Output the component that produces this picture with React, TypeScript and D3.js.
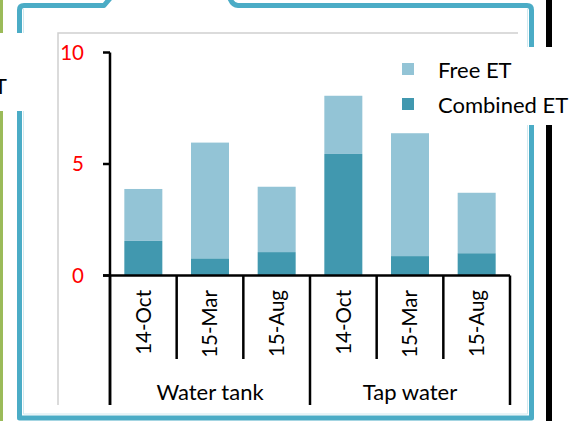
import React from 'react';
import * as d3 from 'd3';

const groups = ['Water tank', 'Tap water'];
const dates = ['14-Oct', '15-Mar', '15-Aug'];
const combinedET = [1.55, 0.77, 1.05, 5.45, 0.87, 1.0];
const freeET = [2.33, 5.19, 2.93, 2.61, 5.51, 2.71];
const yTicks = [0, 5, 10];
const seriesNames = ['Free ET', 'Combined ET'];

const colors: Record<string, string> = {
  'Free ET': '#93c4d6',
  'Combined ET': '#4198af',
};

const font = 'Lato, "Open Sans", sans-serif';

const App: React.FC = () => {
  const width = 571;
  const height = 421;

  // one row per bar, group-major
  const rows = groups.flatMap((g, gi) =>
    dates.map((d, di) => ({
      key: `${g}|${d}`,
      group: g,
      date: d,
      'Combined ET': combinedET[gi * dates.length + di],
      'Free ET': freeET[gi * dates.length + di],
    }))
  );

  const xScale = d3.scaleBand<string>()
    .domain(rows.map(r => r.key))
    .range([110, 510])
    .paddingInner(0.43)
    .paddingOuter(0.215);

  const yScale = d3.scaleLinear()
    .domain([0, 10])
    .range([275.5, 52.5]);

  const stack = d3.stack<any>().keys(['Combined ET', 'Free ET']);
  const layers = stack(rows);

  const step = xScale.step();
  const x0 = xScale.range()[0];
  const catEdge = (i: number) => x0 + step * i;
  const axisY = yScale(0);

  return (
    <svg width={width} height={height} style={{ position: 'absolute', left: 0, top: 0, background: '#fff' }}>
      {/* decorative frame pieces */}
      <rect x={0} y={0} width={3} height={421} fill="#9bbb59" />
      <rect x={546} y={0} width={6} height={421} fill="#000" />
      <path
        d="M112,-4 L104,5.5 L24,5.5 Q19.5,5.5 19.5,10 L19.5,418 L531.5,418 L531.5,10 Q531.5,5.5 527,5.5 L238,5.5 Q232,5.5 229,-4"
        fill="none"
        stroke="#4bacc6"
        strokeWidth={5}
        strokeLinejoin="round"
      />
      <path
        d="M23.5,9 L23.5,414 L527.5,414 L527.5,9"
        fill="none"
        stroke="#cfe9f0"
        strokeWidth={1}
      />
      <rect x={0} y={33} width={30} height={78} fill="#fff" />
      <text x={7} y={94} textAnchor="end" fontFamily={font} fontSize={21} fill="#000">ET</text>

      {/* chart area border */}
      <path d="M58,405 L58,33 L518,33" fill="none" stroke="#d0d0d0" strokeWidth={1.5} />

      {/* legend box */}
      <rect x={390} y={47} width={181} height={78} fill="#fff" />

      {/* bars */}
      {layers.map(layer => (
        <g key={layer.key} fill={colors[layer.key]}>
          {layer.map((d, i) => (
            <rect
              key={i}
              x={xScale(rows[i].key)}
              y={yScale(d[1])}
              width={xScale.bandwidth()}
              height={yScale(d[0]) - yScale(d[1])}
            />
          ))}
        </g>
      ))}

      {/* y axis */}
      <line x1={110} x2={110} y1={yScale(10)} y2={405} stroke="#000" strokeWidth={2.5} />
      {yTicks.map(t => (
        <g key={t}>
          <line x1={103} x2={110} y1={yScale(t)} y2={yScale(t)} stroke="#000" strokeWidth={2.5} />
          <text x={84} y={yScale(t)} dy="0.36em" textAnchor="end" fontFamily={font} fontSize={20.5} fill="#ff0000">
            {t}
          </text>
        </g>
      ))}

      {/* x axis with category separators */}
      <line x1={103} x2={catEdge(rows.length)} y1={axisY} y2={axisY} stroke="#000" strokeWidth={2.5} />
      {d3.range(rows.length + 1).map(i => (
        <line
          key={i}
          x1={catEdge(i)}
          x2={catEdge(i)}
          y1={axisY}
          y2={i % dates.length === 0 ? 405 : 359}
          stroke="#000"
          strokeWidth={2.5}
        />
      ))}
      {rows.map(r => {
        const cx = (xScale(r.key) as number) + xScale.bandwidth() / 2;
        return (
          <text
            key={r.key}
            transform={`translate(${cx},290) rotate(-90)`}
            dy="0.36em"
            textAnchor="end"
            fontFamily={font}
            fontSize={20.5}
            fill="#000"
          >
            {r.date}
          </text>
        );
      })}
      {groups.map((g, gi) => (
        <text
          key={g}
          x={(catEdge(gi * dates.length) + catEdge((gi + 1) * dates.length)) / 2}
          y={400}
          textAnchor="middle"
          fontFamily={font}
          fontSize={22}
          fill="#000"
        >
          {g}
        </text>
      ))}

      {/* legend */}
      {seriesNames.map((s, i) => (
        <g key={s} transform={`translate(402,${63 + i * 35})`}>
          <rect width={12} height={12} fill={colors[s]} />
          <text x={36} y={7} dy="0.36em" fontFamily={font} fontSize={22} fill="#000">{s}</text>
        </g>
      ))}
    </svg>
  );
};

export default App;
